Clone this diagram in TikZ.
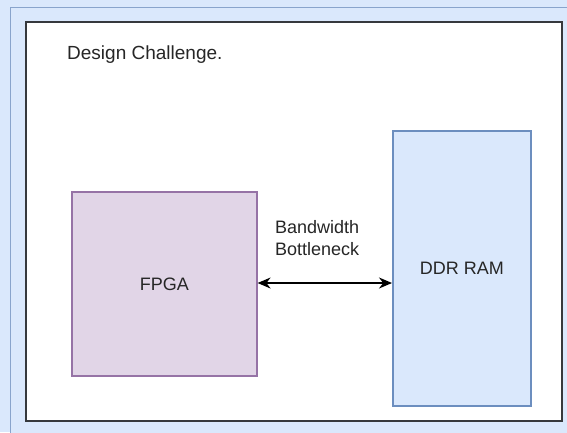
\documentclass[tikz,border=0pt]{standalone}
\usepackage{fontspec}
\setmainfont{Liberation Sans}
\usetikzlibrary{arrows.meta}
\definecolor{bluefill}{HTML}{DAE8FC}
\definecolor{bluestroke}{HTML}{6C8EBF}
\definecolor{purplefill}{HTML}{E1D5E7}
\definecolor{purplestroke}{HTML}{9673A6}
\definecolor{darkframe}{HTML}{36393D}
\begin{document}
\begin{tikzpicture}[x=1pt,y=-1pt,
  lbl/.style={font=\fontsize{18}{22}\selectfont, text=black!85, inner sep=0pt},
  bluebox/.style={draw=bluestroke, fill=bluefill, line width=1.6pt},
  purplebox/.style={draw=purplestroke, fill=purplefill, line width=1.6pt},
  link/.style={line width=1.6pt, {Stealth[length=13pt,width=11pt]}-{Stealth[length=13pt,width=11pt]}}
]
\useasboundingbox (0,0) rectangle (567,432);
\fill[bluefill] (0,0) rectangle (567,432);
\draw[bluestroke!80, line width=1pt, fill=bluefill] (10,7) rectangle (600,460);
\draw[darkframe, line width=2.2pt, fill=white] (26,22) rectangle (562,421);
\node[lbl, font=\fontsize{19}{23}\selectfont, anchor=base west] (title) at (67,59) {Design Challenge.};
\node[purplebox, minimum width=185pt, minimum height=184pt, anchor=north west] (fpga) at (71,191) {};
\node[lbl] at (fpga.center) {FPGA};
\node[bluebox, minimum width=138pt, minimum height=275pt, anchor=north west] (ddr) at (392,130) {};
\node[lbl] at (ddr.center) {DDR RAM};
\draw[link] (fpga.east |- 0,283) coordinate (a) -- (ddr.west |- 0,283) coordinate (b);
\node[lbl, align=left, anchor=base west] (bw) at (275,255) {Bandwidth\\Bottleneck};
\end{tikzpicture}
\end{document}
